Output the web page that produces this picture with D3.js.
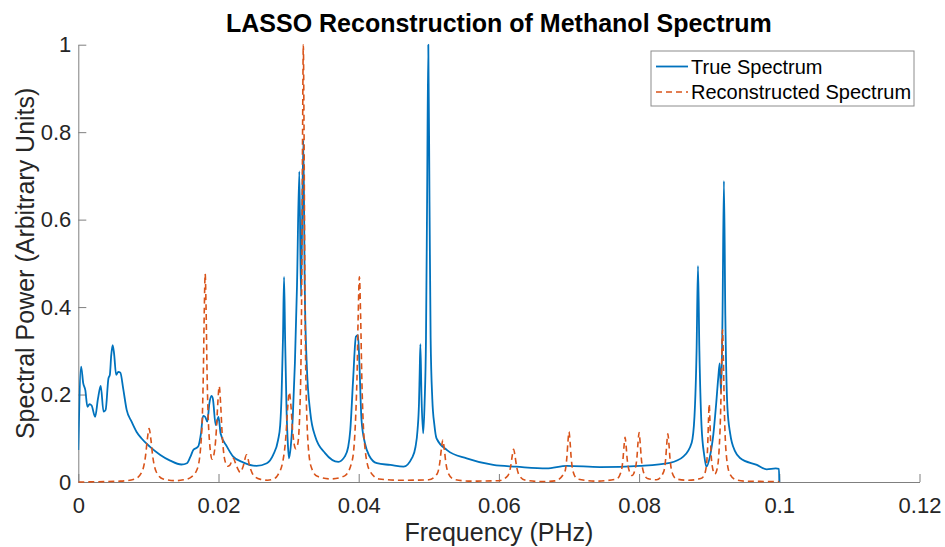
<!DOCTYPE html>
<html>
<head>
<meta charset="utf-8">
<script src="https://cdn.jsdelivr.net/npm/d3@7"></script>
<style>
  html, body { margin: 0; padding: 0; background: #fff; }
  svg { display: block; }
  text { font-family: "Liberation Sans", Arial, Helvetica, sans-serif; }
</style>
</head>
<body>
<svg id="chart" width="945" height="547"></svg>
<script>
// ---------------- data ----------------
const chartTitle = "LASSO Reconstruction of Methanol Spectrum";
const xLabel = "Frequency (PHz)";
const yLabel = "Spectral Power (Arbitrary Units)";
const seriesNames = ["True Spectrum", "Reconstructed Spectrum"];

const xTicks = [0, 0.02, 0.04, 0.06, 0.08, 0.1, 0.12];
const xTickLabels = ["0", "0.02", "0.04", "0.06", "0.08", "0.1", "0.12"];
const yTicks = [0, 0.2, 0.4, 0.6, 0.8, 1];
const yTickLabels = ["0", "0.2", "0.4", "0.6", "0.8", "1"];

// [frequency (PHz), power]
const trueSpectrum = [
  [0, 0.073], [0.0004, 0.264], [0.0007, 0.226], [0.001, 0.21], [0.0013, 0.172],
  [0.0016, 0.178], [0.0019, 0.175], [0.0024, 0.149], [0.0028, 0.19], [0.0032, 0.22],
  [0.0036, 0.161], [0.0039, 0.165], [0.0043, 0.237], [0.0045, 0.245], [0.0047, 0.29],
  [0.0049, 0.313], [0.0051, 0.294], [0.0054, 0.245], [0.0057, 0.252], [0.006, 0.25],
  [0.0064, 0.214], [0.0069, 0.165], [0.0076, 0.138], [0.0083, 0.115], [0.009, 0.1],
  [0.0102, 0.081], [0.0117, 0.062], [0.0131, 0.049], [0.0147, 0.04], [0.0155, 0.043],
  [0.016, 0.058], [0.0164, 0.073], [0.0171, 0.081], [0.0175, 0.111], [0.0178, 0.151],
  [0.0181, 0.149], [0.0184, 0.138], [0.0187, 0.18], [0.019, 0.197], [0.0192, 0.19],
  [0.0196, 0.13], [0.02, 0.149], [0.0203, 0.111], [0.0212, 0.081], [0.0221, 0.058],
  [0.0235, 0.045], [0.0254, 0.037], [0.0269, 0.043], [0.0278, 0.062], [0.0285, 0.096],
  [0.0288, 0.13], [0.029, 0.2], [0.0292, 0.33], [0.02935, 0.469], [0.0295, 0.33],
  [0.0297, 0.17], [0.0299, 0.085], [0.03006, 0.054], [0.0303, 0.08], [0.0306, 0.15],
  [0.0309, 0.272], [0.0312, 0.45], [0.03153, 0.71], [0.03177, 0.424], [0.0321, 0.782],
  [0.0323, 0.45], [0.03258, 0.272], [0.0331, 0.158], [0.0338, 0.104], [0.0352, 0.066],
  [0.0371, 0.046], [0.038, 0.058], [0.0385, 0.08], [0.0388, 0.119], [0.0392, 0.233],
  [0.0396, 0.332], [0.0399, 0.336], [0.0401, 0.271], [0.0404, 0.142], [0.0409, 0.088],
  [0.0415, 0.06], [0.0426, 0.043], [0.0445, 0.039], [0.0464, 0.035], [0.0476, 0.055],
  [0.0481, 0.08], [0.0484, 0.12], [0.0486, 0.18], [0.0487, 0.25], [0.0488, 0.315],
  [0.04895, 0.2], [0.0492, 0.111], [0.0494, 0.18], [0.0496, 0.33], [0.04976, 0.65],
  [0.04993, 1.0], [0.0501, 0.64], [0.05026, 0.33], [0.0505, 0.19], [0.0508, 0.13],
  [0.0511, 0.1], [0.0526, 0.073], [0.0554, 0.054], [0.0592, 0.039], [0.0625, 0.035],
  [0.0668, 0.031], [0.0697, 0.037], [0.0744, 0.034], [0.0801, 0.037], [0.0844, 0.044],
  [0.0863, 0.058], [0.0875, 0.09], [0.0879, 0.15], [0.0882, 0.3], [0.0884, 0.494],
  [0.0886, 0.3], [0.0889, 0.13], [0.0893, 0.06], [0.0896, 0.035], [0.0901, 0.058],
  [0.0906, 0.11], [0.091, 0.18], [0.0913, 0.24], [0.0915, 0.271], [0.0917, 0.203],
  [0.0919, 0.38], [0.0921, 0.688], [0.0923, 0.38], [0.0926, 0.17], [0.093, 0.11],
  [0.0937, 0.07], [0.0944, 0.055], [0.0968, 0.039], [0.0982, 0.029], [0.0995, 0.031],
  [0.09995, 0.03], [0.1, 0.0]
];

const reconstructedSpectrum = [
  [0, 0], [0.006, 0.002], [0.0081, 0.007], [0.0091, 0.024], [0.0096, 0.061],
  [0.00985, 0.098], [0.0101, 0.122], [0.01035, 0.098], [0.0106, 0.061], [0.0111, 0.024],
  [0.0121, 0.007], [0.014, 0.003], [0.015, 0.005], [0.016, 0.01], [0.017, 0.031],
  [0.0176, 0.113], [0.01783, 0.243], [0.01797, 0.39], [0.0181, 0.476], [0.01823, 0.395],
  [0.01837, 0.249], [0.01864, 0.11], [0.0191, 0.052], [0.0195, 0.08], [0.0197, 0.12],
  [0.0199, 0.18], [0.0201, 0.219], [0.0203, 0.18], [0.0205, 0.116], [0.0209, 0.05],
  [0.0213, 0.036], [0.0216, 0.038], [0.0221, 0.054], [0.0226, 0.035], [0.0231, 0.022],
  [0.0235, 0.035], [0.024, 0.062], [0.0245, 0.033], [0.025, 0.015], [0.026, 0.006],
  [0.027, 0.004], [0.028, 0.008], [0.0285, 0.017], [0.0292, 0.049], [0.02963, 0.108],
  [0.02987, 0.17], [0.0301, 0.205], [0.03033, 0.175], [0.03057, 0.118], [0.0308, 0.086],
  [0.031, 0.076], [0.0313, 0.086], [0.0317, 0.216], [0.0319, 0.514], [0.032, 0.81],
  [0.0321, 1.0], [0.0322, 0.81], [0.0323, 0.51], [0.0325, 0.208], [0.0329, 0.064],
  [0.0333, 0.031], [0.0341, 0.013], [0.0361, 0.007], [0.038, 0.014], [0.0391, 0.051],
  [0.03975, 0.2345], [0.03992, 0.375], [0.0401, 0.469], [0.04028, 0.375], [0.04045, 0.2345],
  [0.0408, 0.094], [0.0415, 0.028], [0.0429, 0.007], [0.046, 0.004], [0.05, 0.005],
  [0.0512, 0.019], [0.0516, 0.048], [0.0518, 0.077], [0.052, 0.096], [0.0522, 0.077],
  [0.0524, 0.048], [0.0528, 0.019], [0.0536, 0.006], [0.056, 0.002], [0.06, 0.003],
  [0.0613, 0.015], [0.0617, 0.0375], [0.0619, 0.06], [0.0621, 0.075], [0.0623, 0.06],
  [0.0625, 0.0375], [0.0629, 0.015], [0.0637, 0.0045], [0.066, 0.001], [0.068, 0.0025],
  [0.0694, 0.023], [0.0697, 0.0575], [0.06985, 0.092], [0.07, 0.115], [0.07015, 0.092],
  [0.0703, 0.0575], [0.0706, 0.023], [0.0712, 0.007], [0.074, 0.002], [0.0768, 0.007],
  [0.0774, 0.022], [0.0777, 0.052], [0.07785, 0.082], [0.078, 0.102], [0.07815, 0.082],
  [0.0783, 0.052], [0.0786, 0.025], [0.079, 0.015], [0.0794, 0.027], [0.0797, 0.058],
  [0.07985, 0.091], [0.08, 0.113], [0.08015, 0.09], [0.0803, 0.057], [0.0806, 0.024],
  [0.0812, 0.008], [0.0825, 0.005], [0.0835, 0.023], [0.0838, 0.055], [0.08395, 0.088],
  [0.0841, 0.11], [0.08425, 0.088], [0.0844, 0.055], [0.0847, 0.022], [0.0853, 0.007],
  [0.087, 0.004], [0.0888, 0.008], [0.0892, 0.013], [0.0896, 0.037], [0.0898, 0.09],
  [0.0899, 0.142], [0.09, 0.178], [0.0901, 0.142], [0.0902, 0.09], [0.0904, 0.04],
  [0.0908, 0.018], [0.0911, 0.028], [0.0914, 0.07], [0.09165, 0.174], [0.09178, 0.278],
  [0.0919, 0.348], [0.09203, 0.278], [0.09215, 0.174], [0.0924, 0.07], [0.0929, 0.02],
  [0.0937, 0.006], [0.095, 0.002], [0.1, 0.001]
];

// ---------------- layout ----------------
const colors = ["#0072BD", "#D95319"];
const plot = { left: 78.3, right: 919.5, top: 44.7, bottom: 482 };
const axisColor = "#7f7f7f";
const textColor = "#262626";

const svg = d3.select("#chart");

const x = d3.scaleLinear().domain([0, 0.12]).range([plot.left, plot.right]);
const y = d3.scaleLinear().domain([0, 1]).range([plot.bottom, plot.top]);

svg.append("defs").append("clipPath").attr("id", "clip")
  .append("rect")
  .attr("x", plot.left).attr("y", plot.top - 1)
  .attr("width", plot.right - plot.left).attr("height", plot.bottom - plot.top + 2);

// axes
const xAxis = d3.axisBottom(x)
  .tickValues(xTicks)
  .tickFormat((d, i) => xTickLabels[i])
  .tickSizeInner(-8).tickSizeOuter(0).tickPadding(15);
const yAxis = d3.axisLeft(y)
  .tickValues(yTicks)
  .tickFormat((d, i) => yTickLabels[i])
  .tickSizeInner(-8).tickSizeOuter(0).tickPadding(7);

const gx = svg.append("g").attr("transform", `translate(0,${plot.bottom})`).call(xAxis);
const gy = svg.append("g").attr("transform", `translate(${plot.left},0)`).call(yAxis);
[gx, gy].forEach(g => {
  g.select(".domain").attr("stroke", axisColor).attr("stroke-width", 1);
  g.selectAll(".tick line").attr("stroke", axisColor).attr("stroke-width", 1);
  g.selectAll(".tick text")
    .attr("fill", textColor)
    .style("font-family", '"Liberation Sans", Arial, sans-serif')
    .style("font-size", "22px");
});

// lines
const line = d3.line()
  .x(d => x(d[0]))
  .y(d => y(d[1]))
  .curve(d3.curveMonotoneX);

const plotG = svg.append("g").attr("clip-path", "url(#clip)");
plotG.append("path")
  .datum(trueSpectrum)
  .attr("d", line)
  .attr("fill", "none")
  .attr("stroke", colors[0])
  .attr("stroke-width", 1.8)
  .attr("stroke-linejoin", "round");

plotG.append("path")
  .datum(reconstructedSpectrum)
  .attr("d", line)
  .attr("fill", "none")
  .attr("stroke", colors[1])
  .attr("stroke-width", 1.6)
  .attr("stroke-dasharray", "6,4")
  .attr("stroke-linejoin", "round");

// title and labels
svg.append("text")
  .attr("x", (plot.left + plot.right) / 2)
  .attr("y", 32)
  .attr("text-anchor", "middle")
  .attr("fill", "#000")
  .style("font-size", "25px")
  .style("font-weight", "bold")
  .text(chartTitle);

svg.append("text")
  .attr("x", (plot.left + plot.right) / 2)
  .attr("y", 541)
  .attr("text-anchor", "middle")
  .attr("fill", textColor)
  .style("font-size", "25px")
  .text(xLabel);

svg.append("text")
  .attr("transform", `translate(34,${(plot.top + plot.bottom) / 2}) rotate(-90)`)
  .attr("text-anchor", "middle")
  .attr("fill", textColor)
  .style("font-size", "25px")
  .text(yLabel);

// legend
const legend = { x: 651, y: 51, w: 263, h: 55 };
const lg = svg.append("g");
lg.append("rect")
  .attr("x", legend.x).attr("y", legend.y)
  .attr("width", legend.w).attr("height", legend.h)
  .attr("fill", "#fff")
  .attr("stroke", "#8c8c8c").attr("stroke-width", 1);

seriesNames.forEach((name, i) => {
  const cy = legend.y + 15.5 + i * 25.5;
  lg.append("line")
    .attr("x1", legend.x + 5).attr("x2", legend.x + 37)
    .attr("y1", cy).attr("y2", cy)
    .attr("stroke", colors[i])
    .attr("stroke-width", i === 0 ? 1.8 : 1.6)
    .attr("stroke-dasharray", i === 0 ? null : "6,4");
  lg.append("text")
    .attr("x", legend.x + 40)
    .attr("y", cy)
    .attr("dy", "0.35em")
    .attr("fill", "#000")
    .style("font-size", "20px")
    .text(name);
});
</script>
</body>
</html>
